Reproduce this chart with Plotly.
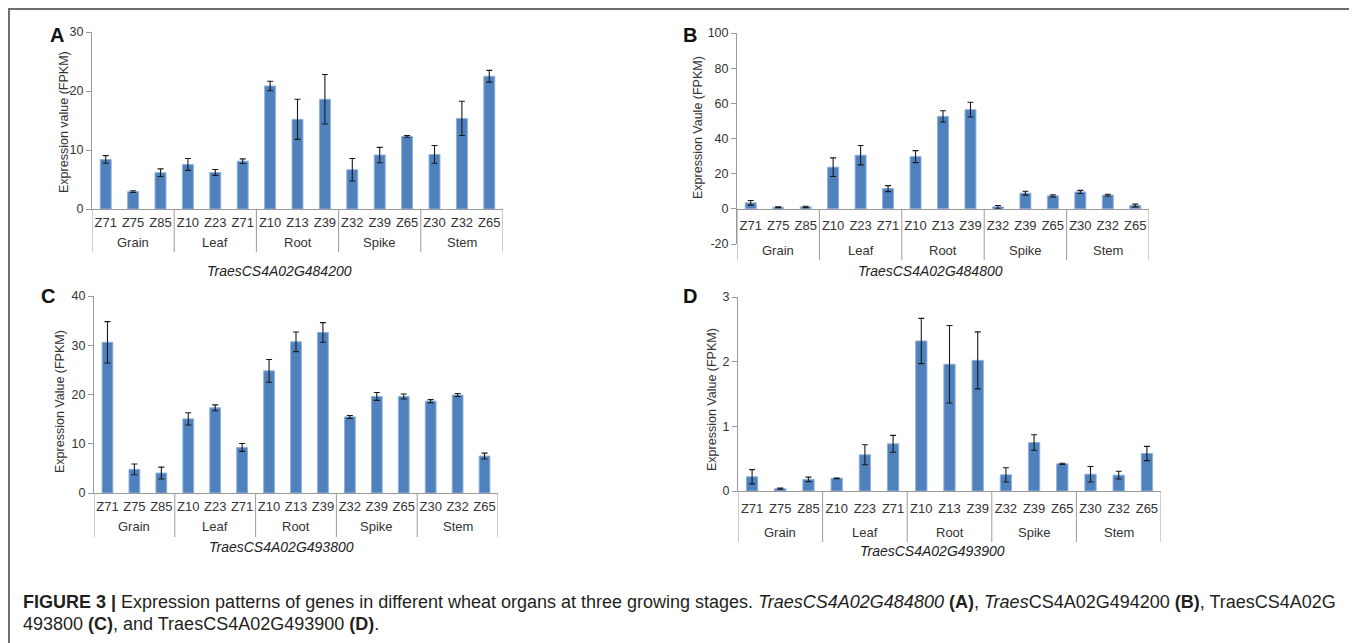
import plotly.graph_objects as go

# ---------------- data ----------------
organs = ["Grain"] * 3 + ["Leaf"] * 3 + ["Root"] * 3 + ["Spike"] * 3 + ["Stem"] * 3
stages = ["Z71", "Z75", "Z85", "Z10", "Z23", "Z71", "Z10", "Z13", "Z39",
          "Z32", "Z39", "Z65", "Z30", "Z32", "Z65"]

genes = ["TraesCS4A02G484200", "TraesCS4A02G484800",
         "TraesCS4A02G493800", "TraesCS4A02G493900"]
panel_letters = ["A", "B", "C", "D"]
y_titles = ["Expression value (FPKM)", "Expression Vaule (FPKM)",
            "Expression Value (FPKM)", "Expression Value (FPKM)"]

vals_A = [8.4, 2.95, 6.15, 7.55, 6.2, 8.1, 20.85, 15.2, 18.6, 6.65, 9.15, 12.3, 9.25, 15.35, 22.5]
err_A = [0.65, 0.15, 0.65, 1.0, 0.5, 0.4, 0.8, 3.4, 4.2, 1.9, 1.3, 0.15, 1.5, 2.9, 1.0]

vals_B = [3.4, 0.9, 1.1, 23.7, 30.5, 11.5, 29.7, 52.6, 56.4, 1.1, 8.9, 7.4, 9.6, 7.8, 1.9]
err_B = [1.3, 0.3, 0.4, 5.3, 5.5, 1.7, 3.4, 3.2, 4.2, 0.8, 1.1, 0.6, 0.9, 0.5, 0.8]

vals_C = [30.6, 4.8, 4.05, 15.05, 17.3, 9.25, 24.8, 30.7, 32.6, 15.45, 19.6, 19.6, 18.65, 19.9, 7.5]
err_C = [4.2, 1.1, 1.2, 1.25, 0.6, 0.8, 2.3, 2.0, 2.0, 0.3, 0.8, 0.5, 0.3, 0.3, 0.6]

vals_D = [0.22, 0.036, 0.18, 0.197, 0.56, 0.73, 2.32, 1.96, 2.02, 0.25, 0.75, 0.42, 0.26, 0.245, 0.58]
err_D = [0.11, 0.01, 0.035, 0.005, 0.155, 0.13, 0.35, 0.6, 0.44, 0.11, 0.12, 0.01, 0.12, 0.06, 0.11]

y_ranges = [[0, 30], [-20, 100], [0, 40], [0, 3]]
y_dticks = [10, 20, 10, 1]
all_vals = [vals_A, vals_B, vals_C, vals_D]
all_errs = [err_A, err_B, err_C, err_D]

caption_line1 = ("<b>FIGURE 3 |</b> Expression patterns of genes in different wheat organs at three "
                 "growing stages. <i>TraesCS4A02G484800</i> <b>(A)</b>, <i>Traes</i>CS4A02G494200 "
                 "<b>(B)</b>, TraesCS4A02G")
caption_line2 = "493800 <b>(C)</b>, and TraesCS4A02G493900 <b>(D)</b>."

# ---------------- derived category positions ----------------
positions = list(range(len(stages)))
groups = []  # (name, first index, last index)
for idx, org in enumerate(organs):
    if groups and groups[-1][0] == org:
        groups[-1][2] = idx
    else:
        groups.append([org, idx, idx])
boundaries = [groups[0][1] - 0.5] + [g[2] + 0.5 for g in groups]

# ---------------- layout (screen pixels, page has an 8px body margin) ----------------
W, H = 1357, 643
OFF = 8
def px(x):
    return (x - OFF) / W
def py(y):
    return 1 - (y - OFF) / H

# plot area: x0, x1, ytop, ybottom, pixel of the category axis line
boxes = [
    (92, 503, 32, 209, 209),
    (737, 1149, 33, 244, 209),
    (94, 498, 296, 493, 493),
    (738, 1161, 297, 491, 491),
]
# (tick label standoff, group label offset, divider length) below the axis line
cat_offsets = [(1, 33, 43), (4, 41, 51), (1, 33, 44), (5, 41, 51)]
letter_pos = [(57, 35), (690, 35), (48, 296), (690, 296)]
gene_pos = [(279, 271), (930, 271), (281, 547), (932, 551)]
ytitle_pos = [(64, 122), (698, 128), (60, 402), (712, 400)]

BAR = "#4F81BD"
AXIS = "#9a9a9a"
TXT = "#333333"
FONT = "Liberation Sans, Arial, Helvetica, sans-serif"

fig = go.Figure()
layout = {}
annotations = []
shapes = []
for i in range(4):
    xa = "x" if i == 0 else f"x{i+1}"
    ya = "y" if i == 0 else f"y{i+1}"
    fig.add_trace(go.Bar(
        x=positions, y=all_vals[i],
        error_y=dict(type="data", array=all_errs[i], visible=True,
                     color="#1a1a1a", thickness=1.1, width=3),
        marker=dict(color=BAR, line=dict(color="#8FB1DD", width=1)),
        xaxis=xa, yaxis=ya, showlegend=False,
    ))
    x0, x1, yt, yb, axis_px = boxes[i]
    stand, goff, dlen = cat_offsets[i]
    lo, hi = y_ranges[i]
    step = y_dticks[i]
    yticks = [lo + k * step for k in range(int(round((hi - lo) / step)) + 1)]
    xkey = "xaxis" if i == 0 else f"xaxis{i+1}"
    ykey = "yaxis" if i == 0 else f"yaxis{i+1}"
    xdict = dict(
        domain=[px(x0), px(x1)], range=[boundaries[0], boundaries[-1]],
        tickmode="array", tickvals=positions, ticktext=stages,
        showline=True, linecolor=AXIS, linewidth=1,
        ticks="", tickangle=0, ticklabelstandoff=stand,
        showgrid=False, zeroline=False, automargin=False,
        tickfont=dict(family=FONT, size=13, color=TXT),
    )
    if axis_px != yb:
        xdict.update(anchor="free", position=py(axis_px))
    else:
        xdict.update(anchor=ya)
    layout[xkey] = xdict
    layout[ykey] = dict(
        domain=[py(yb), py(yt)], range=y_ranges[i],
        tickmode="array", tickvals=yticks, ticktext=[str(v) for v in yticks],
        anchor=xa, showline=True, linecolor=AXIS, linewidth=1,
        ticks="outside", ticklen=5, tickcolor=AXIS,
        showgrid=False, zeroline=False, automargin=False,
        tickfont=dict(family=FONT, size=12.5, color=TXT),
    )
    # group dividers and group labels
    for b in boundaries:
        shapes.append(dict(type="line", xref=xa, yref="paper", x0=b, x1=b,
                           y0=py(axis_px), y1=py(axis_px + dlen),
                           line=dict(color=AXIS, width=1)))
    for name, a, z in groups:
        annotations.append(dict(text=name, x=(a + z) / 2, y=py(axis_px + goff),
                                xref=xa, yref="paper", showarrow=False,
                                xanchor="center", yanchor="middle",
                                font=dict(family=FONT, size=13, color=TXT)))
    lx, ly = letter_pos[i]
    annotations.append(dict(text=f"<b>{panel_letters[i]}</b>", x=px(lx), y=py(ly),
                            xref="paper", yref="paper", showarrow=False,
                            xanchor="center", yanchor="middle",
                            font=dict(family=FONT, size=20, color="#111")))
    gx, gy = gene_pos[i]
    annotations.append(dict(text=f"<i>{genes[i]}</i>", x=px(gx), y=py(gy),
                            xref="paper", yref="paper", showarrow=False,
                            xanchor="center", yanchor="middle",
                            font=dict(family=FONT, size=14, color="#222")))
    tx, ty = ytitle_pos[i]
    annotations.append(dict(text=y_titles[i], x=px(tx), y=py(ty),
                            xref="paper", yref="paper", showarrow=False,
                            textangle=-90, xanchor="center", yanchor="middle",
                            font=dict(family=FONT, size=12.5, color=TXT)))

for txt, yc in [(caption_line1, 602), (caption_line2, 624)]:
    annotations.append(dict(text=txt, x=px(21), y=py(yc), xref="paper", yref="paper",
                            showarrow=False, xanchor="left", yanchor="middle", align="left",
                            font=dict(family=FONT, size=18, color="#231F20")))

shapes.append(dict(type="rect", xref="paper", yref="paper",
                   x0=px(9), x1=px(1355), y0=py(680), y1=py(9),
                   line=dict(color="#6f6f6f", width=2)))

fig.update_layout(
    width=W, height=H, margin=dict(l=0, r=0, t=0, b=0),
    paper_bgcolor="white", plot_bgcolor="white",
    bargap=0.6, annotations=annotations, shapes=shapes,
    **layout,
)

fig.write_html("out.html")
